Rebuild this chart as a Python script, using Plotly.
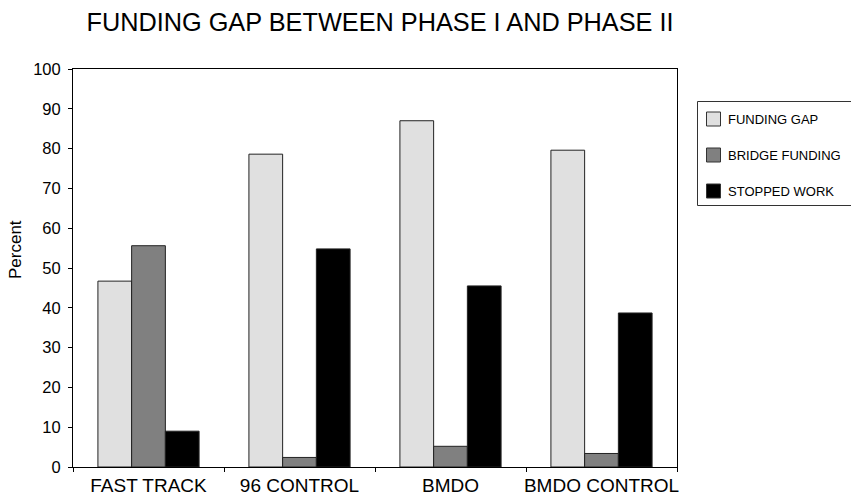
import plotly.graph_objects as go

categories = ["FAST TRACK", "96 CONTROL", "BMDO", "BMDO CONTROL"]
funding_gap = [46.7, 78.6, 87.0, 79.6]
bridge_funding = [55.6, 2.4, 5.2, 3.4]
stopped_work = [9.0, 54.8, 45.5, 38.7]

series_names = ["FUNDING GAP", "BRIDGE FUNDING", "STOPPED WORK"]
series_values = [funding_gap, bridge_funding, stopped_work]
series_colors = ["#e0e0e0", "#808080", "#000000"]

FONT = "Liberation Sans, Arial, sans-serif"
W, H = 851, 495
L, R, T, B = 73, 174, 69, 28
PW, PH = W - L - R, H - T - B


def px_x(x):
    return (x - L) / PW


def px_y(y):
    return (H - B - y) / PH


fig = go.Figure()
for name, vals, color in zip(series_names, series_values, series_colors):
    fig.add_trace(go.Bar(
        x=categories, y=vals, name=name,
        marker=dict(color=color, line=dict(color="#222222", width=1)),
        showlegend=False,
    ))

# boxed key at the right of the plot
shapes = [dict(
    type="rect", xref="paper", yref="paper",
    x0=px_x(697.5), x1=px_x(860), y0=px_y(205.5), y1=px_y(101.5),
    line=dict(color="#333333", width=1), fillcolor="white",
)]
annotations = []
for i, (name, color) in enumerate(zip(series_names, series_colors)):
    cy = 119 + 36 * i
    shapes.append(dict(
        type="rect", xref="paper", yref="paper",
        x0=px_x(706.5), x1=px_x(720.5), y0=px_y(cy + 7), y1=px_y(cy - 7),
        line=dict(color="#333333", width=1), fillcolor=color,
    ))
    annotations.append(dict(
        text=name, xref="paper", yref="paper",
        x=px_x(726), y=px_y(cy), xanchor="left", yanchor="middle",
        showarrow=False, font=dict(size=13, family=FONT, color="black"),
    ))

annotations.append(dict(
    text="Percent", xref="paper", yref="paper",
    x=px_x(15), y=px_y(250), xanchor="center", yanchor="middle",
    textangle=-90, showarrow=False,
    font=dict(size=17, family=FONT, color="black"),
))

fig.update_layout(
    width=W, height=H,
    margin=dict(l=L, r=R, t=T, b=B, autoexpand=False),
    paper_bgcolor="white", plot_bgcolor="white",
    font=dict(family=FONT, color="black"),
    barmode="group", bargap=0.33, bargroupgap=0,
    title=dict(
        text="FUNDING GAP BETWEEN PHASE I AND PHASE II",
        x=380 / W, xanchor="center", xref="container",
        y=1 - 22 / H, yanchor="middle", yref="container",
        font=dict(size=25.3, family=FONT, color="black"),
    ),
    showlegend=False,
    shapes=shapes,
    annotations=annotations,
)

fig.update_xaxes(
    type="category", automargin=False, tickangle=0,
    showline=True, linecolor="black", linewidth=1, mirror=True,
    ticks="outside", tickson="boundaries", ticklen=4, tickcolor="black",
    tickfont=dict(size=19, family=FONT),
    ticklabelstandoff=1,
    showgrid=False,
)
fig.update_yaxes(
    range=[0, 100], dtick=10, tick0=0, automargin=False,
    showline=True, linecolor="black", linewidth=1, mirror=True,
    ticks="outside", ticklen=4, tickcolor="black",
    tickfont=dict(size=16.5, family=FONT),
    ticklabelstandoff=4,
    showgrid=False, zeroline=False,
)

fig.write_html("out.html")
